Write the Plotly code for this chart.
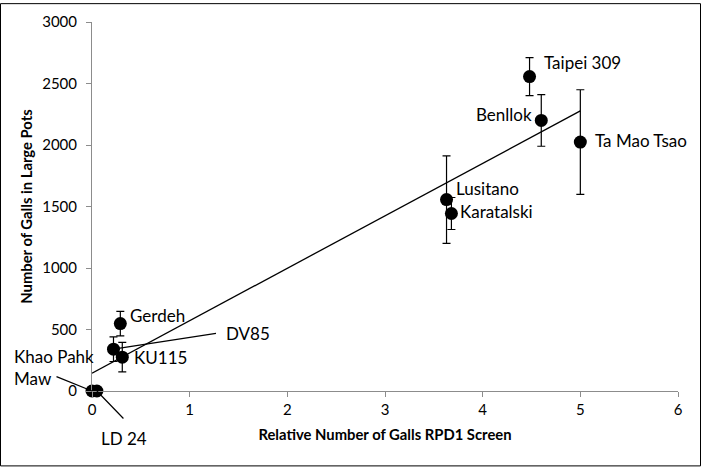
import numpy as np
import plotly.graph_objects as go

cultivars = ["Khao Pahk Maw", "LD 24", "DV85", "Gerdeh", "KU115",
             "Lusitano", "Karatalski", "Taipei 309", "Benllok", "Ta Mao Tsao"]
rpd1_screen = [0.0, 0.05, 0.22, 0.29, 0.31, 3.63, 3.68, 4.48, 4.60, 5.00]
galls_large_pots = [0, 0, 340, 548, 275, 1556, 1443, 2556, 2200, 2024]
galls_error = [0, 0, 100, 100, 120, 355, 130, 155, 210, 425]

x_ticks = [0, 1, 2, 3, 4, 5, 6]
y_ticks = [0, 500, 1000, 1500, 2000, 2500, 3000]

FONT = "Lato, 'Open Sans', sans-serif"
LABEL_SIZE = 17

fig = go.Figure()

# linear trendline fitted from the data
slope, intercept = np.polyfit(rpd1_screen, galls_large_pots, 1)
tx = np.array([min(rpd1_screen), max(rpd1_screen)])
fig.add_trace(go.Scatter(x=tx, y=slope * tx + intercept, mode="lines",
                         line=dict(color="black", width=1.3),
                         showlegend=False, hoverinfo="skip", cliponaxis=False))

fig.add_trace(go.Scatter(
    x=rpd1_screen, y=galls_large_pots, mode="markers",
    marker=dict(color="black", size=13),
    error_y=dict(type="data", array=galls_error, visible=True,
                 color="black", thickness=1.2, width=4),
    showlegend=False, cliponaxis=False))

# label placement (pixel offsets, anchors)
label_pos = {
    "Taipei 309":   dict(xanchor="left", xshift=12, yshift=14),
    "Benllok":      dict(xanchor="right", xshift=-7, yshift=6),
    "Ta Mao Tsao":  dict(xanchor="left", xshift=13, yshift=2),
    "Lusitano":     dict(xanchor="left", xshift=7, yshift=11),
    "Karatalski":   dict(xanchor="left", xshift=7, yshift=2),
    "Gerdeh":       dict(xanchor="left", xshift=8, yshift=8),
    "KU115":        dict(xanchor="left", xshift=10, yshift=0),
    "Khao Pahk Maw": dict(xanchor="left", xshift=-80, yshift=24),
    "LD 24":        dict(xanchor="center", xshift=27, yshift=-47),
    "DV85":         dict(xanchor="left", xshift=111, yshift=16),
}
label_text = {"Khao Pahk Maw": "Khao Pahk<br>Maw"}
for name, xv, yv in zip(cultivars, rpd1_screen, galls_large_pots):
    p = label_pos[name]
    fig.add_annotation(x=xv, y=yv, text=label_text.get(name, name),
                       showarrow=False, align="left",
                       xanchor=p["xanchor"], yanchor="middle",
                       xshift=p["xshift"], yshift=p["yshift"],
                       font=dict(family=FONT, size=LABEL_SIZE, color="black"))

# leader lines (pixel offsets of the line's far end from the point)
leaders = {
    "Khao Pahk Maw": dict(ax=-37, ay=-15),
    "LD 24": dict(ax=28, ay=29),
    "DV85": dict(ax=104, ay=-16),
}
for name, xv, yv in zip(cultivars, rpd1_screen, galls_large_pots):
    if name in leaders:
        p = leaders[name]
        fig.add_annotation(x=xv, y=yv, text="", showarrow=True,
                           arrowhead=0, arrowwidth=1.2, arrowcolor="black",
                           ax=p["ax"], ay=p["ay"], standoff=0)

axis_common = dict(showgrid=False, zeroline=False, showline=True,
                   linecolor="#8c8c8c", linewidth=1, ticks="outside",
                   tickcolor="#8c8c8c", ticklen=5, mirror=False,
                   tickfont=dict(family=FONT, size=15, color="black"))

fig.update_xaxes(range=[0, 6], tickvals=x_ticks,
                 title=dict(text="<b>Relative Number of Galls RPD1 Screen</b>",
                            font=dict(family=FONT, size=14.8, color="black"),
                            standoff=12),
                 **axis_common)
fig.update_yaxes(range=[0, 3000], tickvals=y_ticks, ticklabelstandoff=6,
                 title=dict(text="<b>Number of Galls in Large Pots</b>",
                            font=dict(family=FONT, size=14.8, color="black"),
                            standoff=6),
                 **axis_common)

L, R, T, B = 92, 23, 19, 76
W, H = 701, 467
pw, ph = W - L - R, H - T - B
fig.add_shape(type="rect", xref="paper", yref="paper",
              x0=-(L - 0.5) / pw, x1=1 + (R - 0.5) / pw,
              y0=-(B - 0.5) / ph, y1=1 + (T - 0.5) / ph,
              line=dict(color="black", width=1))

fig.update_layout(width=W, height=H, margin=dict(l=L, r=R, t=T, b=B),
                  paper_bgcolor="white", plot_bgcolor="white",
                  font=dict(family=FONT))

fig.write_html("out.html", config={"displayModeBar": False},
               post_script="document.body.style.margin='0';")
